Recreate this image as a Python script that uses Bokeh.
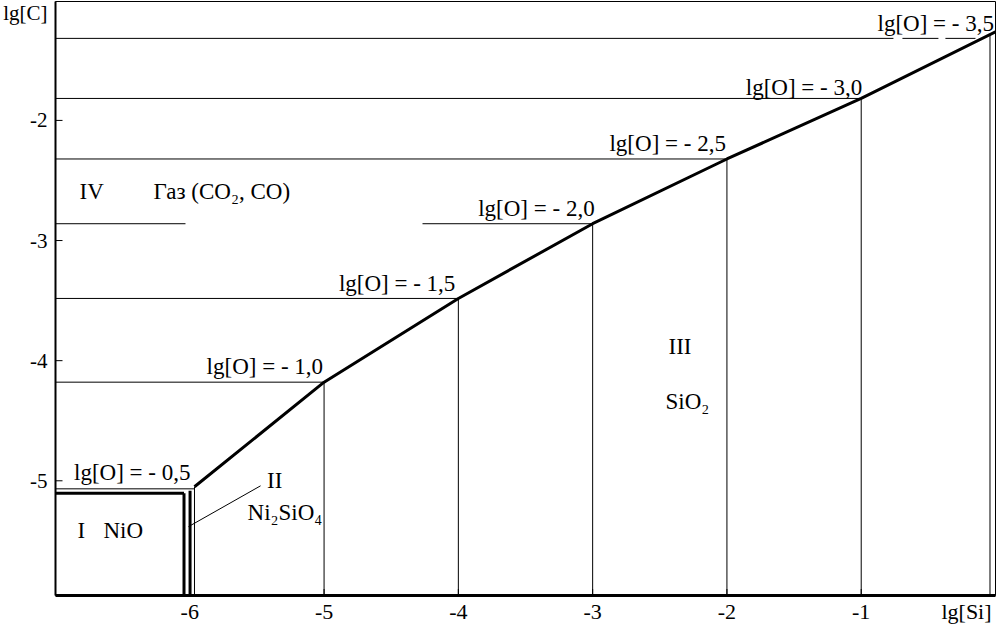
import numpy as np
from bokeh.plotting import figure
from bokeh.models import FixedTicker, Range1d, Label
from bokeh.embed import file_html
from bokeh.resources import INLINE

# ---------------- data ----------------
# boundary curve (SiO2 / gas), lg[Si] vs lg[C]
curve_si = [-5.965, -5.0, -4.0, -3.0, -2.0, -1.0, 0.0]
curve_c = [-5.050, -4.179, -3.482, -2.860, -2.321, -1.817, -1.263]

# isolines lg[O] = const : horizontal level (lg[C]) and the vertical (lg[Si])
lgO_text = ["lg[O] = - 0,5", "lg[O] = - 1,0", "lg[O] = - 1,5", "lg[O] = - 2,0",
            "lg[O] = - 2,5", "lg[O] = - 3,0", "lg[O] = - 3,5"]
iso_si = [-5.965, -5.0, -4.0, -3.0, -2.0, -1.0, -0.041]
iso_c = [-5.067, -4.179, -3.482, -2.860, -2.321, -1.817, -1.317]

# gaps in the horizontal isolines (lg[Si] from, to)
gap_lgO_20 = [-6.032, -4.267]
dash_lgO_35 = [[-0.760, -0.693], [-0.425, -0.373], [-0.149, -0.10]]

# NiO field boundary (thick)
nio_top_c = -5.104
nio_right_si = -6.043
ni2sio4_si = -5.998
ni2sio4_top_c = -5.084

x_ticks = [-6, -5, -4, -3, -2, -1]
y_ticks = [-5, -4, -3, -2]
x_name, x_name_pos = "lg[Si]", -0.216
y_name, y_name_pos = "lg[C]", -1.085
X0, X1 = -7.0, 0.0
Y0, Y1 = -5.955, -1.01

FONT = "Liberation Serif"
FS = "22px"
FS_LAB = "23px"

p = figure(width=999, height=626, output_backend="svg", toolbar_location=None,
           x_range=Range1d(X0, X1), y_range=Range1d(Y0, Y1),
           min_border_left=55, min_border_right=4, min_border_top=1, min_border_bottom=29)
p.background_fill_color = "white"
p.border_fill_color = "white"
p.outline_line_color = "black"
p.outline_line_width = 1
p.xgrid.visible = False
p.ygrid.visible = False

for ax, ticks, name, pos, lw in ((p.xaxis, x_ticks, x_name, x_name_pos, 3),
                                 (p.yaxis, y_ticks, y_name, y_name_pos, 2)):
    ax.ticker = FixedTicker(ticks=ticks + [pos])
    ax.major_label_overrides = {**{t: str(t) for t in ticks}, pos: name}
    ax.axis_line_width = lw
    ax.axis_line_color = "black"
    ax.major_tick_in = 0
    ax.major_tick_out = 0
    ax.minor_tick_line_color = None
    ax.major_label_text_font = FONT
    ax.major_label_text_font_size = FS
    ax.major_label_text_color = "black"
p.xaxis.major_label_standoff = 3
p.yaxis.major_label_standoff = 8
p.yaxis.major_label_text_font_size = "21px"

# tick marks pointing inwards (half of each dash is clipped by the frame)
p.scatter(x=x_ticks, y=[Y0] * len(x_ticks), marker="dash", size=13, angle=np.pi / 2,
          line_color="black", line_width=1)
p.scatter(x=[X0] * len(y_ticks), y=y_ticks, marker="dash", size=14,
          line_color="black", line_width=1)

# horizontal isolines
hx0, hx1, hy = [], [], []
for i, lvl in enumerate(iso_c):
    if i == 3:
        hx0 += [X0, gap_lgO_20[1]]; hx1 += [gap_lgO_20[0], iso_si[i]]; hy += [lvl, lvl]
    elif i == 6:
        hx0.append(X0); hx1.append(dash_lgO_35[0][0]); hy.append(lvl)
        for a, b in zip([d[1] for d in dash_lgO_35[:-1]], [d[0] for d in dash_lgO_35[1:]]):
            hx0.append(a); hx1.append(b); hy.append(lvl)
    else:
        hx0.append(X0); hx1.append(iso_si[i]); hy.append(lvl)
p.segment(x0=hx0, y0=hy, x1=hx1, y1=hy, line_color="black", line_width=1)

# vertical isolines from the curve down to the axis
vtop = np.interp(iso_si, curve_si, curve_c)
p.segment(x0=iso_si, y0=list(vtop), x1=iso_si, y1=[Y0] * len(iso_si),
          line_color="black", line_width=1)

# NiO / Ni2SiO4 thick boundaries
p.segment(x0=[X0, nio_right_si, ni2sio4_si], y0=[nio_top_c, nio_top_c, ni2sio4_top_c],
          x1=[nio_right_si, nio_right_si, ni2sio4_si], y1=[nio_top_c, Y0, Y0],
          line_color="black", line_width=3)

# main boundary curve
p.line(curve_si, curve_c, line_color="black", line_width=3, line_join="round")

# leader line for Ni2SiO4 field
p.segment(x0=[-6.010], y0=[-5.382], x1=[-5.473], y1=[-5.042], line_color="black", line_width=1)

# isoline labels, right-aligned above the end of each isoline
lab_dx = [-4, -1, -3, 2, -1, 1, 4]
lab_dy = [16, 16, 15, 15, 15, 11, 15]
for t, xs, yc, dx, dy in zip(lgO_text, iso_si, iso_c, lab_dx, lab_dy):
    p.add_layout(Label(x=xs, y=yc, text=t, x_offset=dx, y_offset=dy,
                       text_align="right", text_baseline="alphabetic",
                       text_font=FONT, text_font_size=FS_LAB, text_color="black"))

regions = [("IV", -6.821, -2.595), ("Газ (CO₂, CO)", -6.270, -2.595),
           ("II", -5.425, -4.999), ("Ni₂SiO₄", -5.570, -5.265),
           ("I", -6.836, -5.414), ("NiO", -6.643, -5.414),
           ("III", -2.435, -3.879), ("SiO₂", -2.457, -4.336)]
for t, xx, yy in regions:
    p.add_layout(Label(x=xx, y=yy, text=t, text_align="left", text_baseline="alphabetic",
                       text_font=FONT, text_font_size=FS_LAB, text_color="black"))

open("out.html", "w").write(file_html(p, INLINE))
